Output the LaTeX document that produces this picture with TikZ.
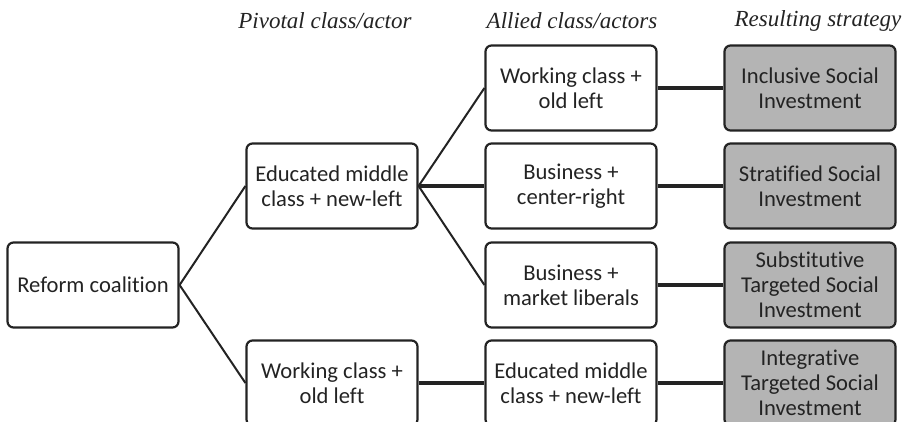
\documentclass[tikz,border=0pt]{standalone}
\usepackage{fontspec}
\setsansfont{Carlito}[Ligatures=NoCommon]
\newfontfamily\headfont{Liberation Serif}
\usetikzlibrary{positioning}
\definecolor{stratgray}{RGB}{180,180,180}
\definecolor{inkgray}{RGB}{35,35,35}

\tikzset{
  box/.style={draw=inkgray,line width=1.1pt,rounded corners=3pt,minimum width=85.5pt,
    minimum height=42.5pt,inner sep=0pt,align=center,text=inkgray,
    font=\sffamily\fontsize{11.3}{12.5}\selectfont},
  stratbox/.style={box,fill=stratgray},
  header/.style={font=\headfont\itshape\fontsize{11.5}{13}\selectfont,text=inkgray},
  link/.style={draw=inkgray,line width=1pt},
  hlink/.style={draw=inkgray,line width=1.6pt}
}

\begin{document}
\begin{tikzpicture}[x=0.5pt,y=-0.5pt]
\useasboundingbox (0,0) rectangle (904,422);
% column headers
\node[header] (hpiv) at (325,21) {Pivotal class/actor};
\node[header] (hall) at (572,21) {Allied class/actors};
\node[header] (hres) at (818,21) {Resulting strategy};
% boxes
\node[box] (reform) at (93,285) {Reform coalition};
\node[box] (pivemc) at (332,186) {Educated middle\\class + new-left};
\node[box] (pivwc)  at (332,383) {Working class +\\old left};
\node[box] (allwc)  at (571,88)  {Working class +\\old left};
\node[box] (allbcr) at (571,186) {Business +\\center-right};
\node[box] (allbml) at (571,285) {Business +\\market liberals};
\node[box] (allemc) at (571,383) {Educated middle\\class + new-left};
\node[stratbox] (resinc) at (810,88)  {Inclusive Social\\Investment};
\node[stratbox] (resstr) at (810,186) {Stratified Social\\Investment};
\node[stratbox] (ressub) at (810,285) {Substitutive\\Targeted Social\\Investment};
\node[stratbox] (resint) at (810,383) {Integrative\\Targeted Social\\Investment};
% connectors
\draw[link] (reform.east) -- (pivemc.west);
\draw[link] (reform.east) -- (pivwc.west);
\draw[link] (pivemc.east) -- (allwc.west);
\draw[hlink] (pivemc.east) -- (allbcr.west);
\draw[link] (pivemc.east) -- (allbml.west);
\draw[hlink] (pivwc.east) -- (allemc.west);
\draw[hlink] (allwc.east) -- (resinc.west);
\draw[hlink] (allbcr.east) -- (resstr.west);
\draw[hlink] (allbml.east) -- (ressub.west);
\draw[hlink] (allemc.east) -- (resint.west);
\end{tikzpicture}
\end{document}
